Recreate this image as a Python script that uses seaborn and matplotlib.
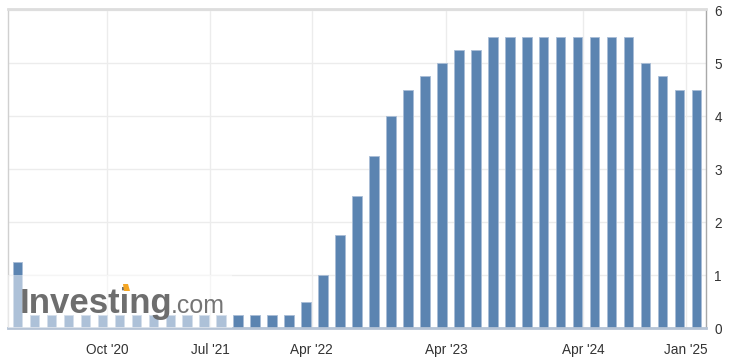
import matplotlib.pyplot as plt
import matplotlib.patches as mpatches
import numpy as np
import pandas as pd
import seaborn as sns

# FOMC decision dates and upper bound of the fed funds target range (%)
dates = [
    "2020-03-03", "2020-03-15", "2020-04-29", "2020-06-10", "2020-07-29", "2020-09-16", "2020-11-05", "2020-12-16",
    "2021-01-27", "2021-03-17", "2021-04-28", "2021-06-16", "2021-07-28", "2021-09-22", "2021-11-03", "2021-12-15",
    "2022-01-26", "2022-03-16", "2022-05-04", "2022-06-15", "2022-07-27", "2022-09-21", "2022-11-02", "2022-12-14",
    "2023-02-01", "2023-03-22", "2023-05-03", "2023-06-14", "2023-07-26", "2023-09-20", "2023-11-01", "2023-12-13",
    "2024-01-31", "2024-03-20", "2024-05-01", "2024-06-12", "2024-07-31", "2024-09-18", "2024-11-07", "2024-12-18",
    "2025-01-29",
]
rates = [
    1.25, 0.25, 0.25, 0.25, 0.25, 0.25, 0.25, 0.25,
    0.25, 0.25, 0.25, 0.25, 0.25, 0.25, 0.25, 0.25,
    0.25, 0.50, 1.00, 1.75, 2.50, 3.25, 4.00, 4.50,
    4.75, 5.00, 5.25, 5.25, 5.50, 5.50, 5.50, 5.50,
    5.50, 5.50, 5.50, 5.50, 5.50, 5.00, 4.75, 4.50,
    4.50,
]
tick_dates = ["2020-10-01", "2021-07-01", "2022-04-01", "2023-04-01", "2024-04-01", "2025-01-01"]
tick_labels = ["Oct '20", "Jul '21", "Apr '22", "Apr '23", "Apr '24", "Jan '25"]
y_ticks = [0, 1, 2, 3, 4, 5, 6]

df = pd.DataFrame({"date": dates, "rate": rates})

sns.set_style("white")
plt.rcParams["font.family"] = ["Liberation Sans", "DejaVu Sans"]

fig = plt.figure(figsize=(7.31, 3.63), dpi=100)
W, H = 731, 363
ax = fig.add_axes([8 / W, (H - 328) / H, 698 / W, 319 / H])

sns.barplot(data=df, x="date", y="rate", color="#5b84b1", width=0.53,
            edgecolor="#a9bdd6", linewidth=0.6, saturation=1, ax=ax, zorder=2)

ax.set_xlim(-0.53, len(dates) - 0.47)
ax.set_ylim(0, 6.02)

# tick positions: calendar dates placed between neighbouring bars
bar_days = pd.to_datetime(pd.Series(dates)).map(pd.Timestamp.toordinal).values
tick_days = pd.to_datetime(pd.Series(tick_dates)).map(pd.Timestamp.toordinal).values
tick_pos = np.interp(tick_days, bar_days, np.arange(len(dates)))
ax.set_xticks(tick_pos)
ax.set_xticklabels(tick_labels)
ax.set_yticks(y_ticks)
ax.yaxis.tick_right()
ax.tick_params(axis="both", length=0, labelsize=9.8, colors="#333333")
ax.tick_params(axis="x", pad=11)
ax.tick_params(axis="y", pad=6)
ax.set_xlabel("")
ax.set_ylabel("")

ax.grid(True, color="#ececec", linewidth=1, zorder=0)
ax.set_axisbelow(True)

ax.spines["top"].set_color("#dddddd")
ax.spines["top"].set_linewidth(2)
ax.spines["left"].set_color("#d0d0d0")
ax.spines["left"].set_linewidth(1)
ax.spines["right"].set_color("#a8a8a8")
ax.spines["right"].set_linewidth(1)
ax.spines["bottom"].set_color("#b5c3d5")
ax.spines["bottom"].set_linewidth(2)

# watermark
ax.add_patch(mpatches.Rectangle((0, 0), (232 - 8) / 698, 53 / 319, transform=ax.transAxes,
                                facecolor="white", alpha=0.5, edgecolor="none", zorder=3))
ax.text(12 / 698, 15 / 319, "Investing", transform=ax.transAxes, fontsize=25, fontweight="bold",
        color="#666666", alpha=0.95, va="baseline", ha="left", zorder=4)
ax.text(163 / 698, 15 / 319, ".com", transform=ax.transAxes, fontsize=18,
        color="#6e6e6e", alpha=0.95, va="baseline", ha="left", zorder=4)
ax.add_patch(mpatches.Polygon([(116 / 698, 37 / 319), (122 / 698, 37 / 319),
                               (120 / 698, 44 / 319), (115 / 698, 44 / 319)],
                              closed=True, transform=ax.transAxes,
                              facecolor="#f5a623", edgecolor="none", zorder=5))

fig.savefig("out.png", dpi=100)
